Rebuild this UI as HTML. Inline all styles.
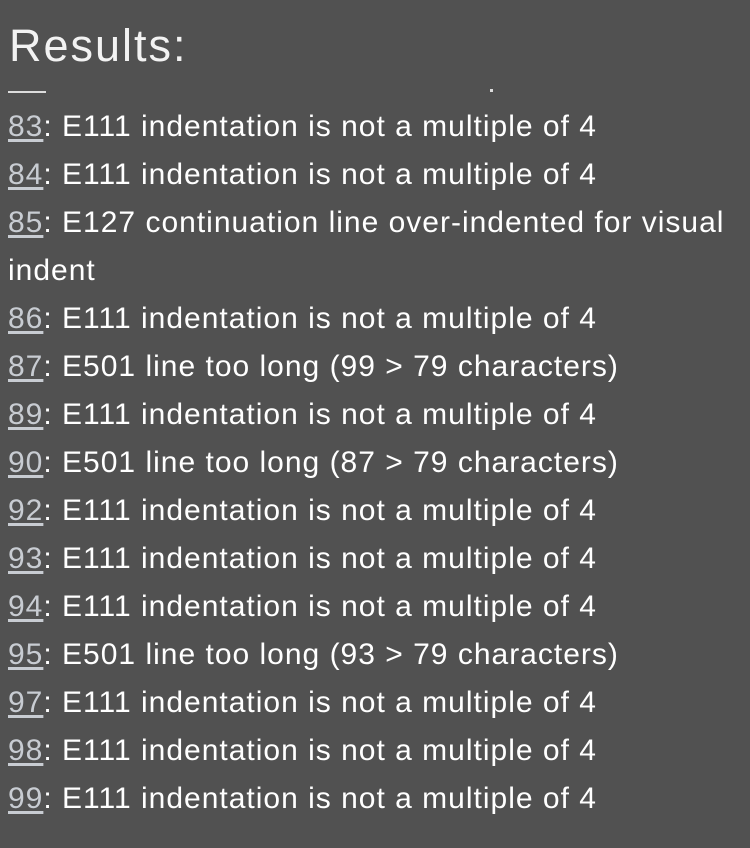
<!DOCTYPE html>
<html><head><meta charset="utf-8"><style>
html,body{margin:0;padding:0;background:#515151;width:750px;height:848px;overflow:hidden}
body{font-family:"Liberation Sans",sans-serif;color:#fff;position:relative}
h1{position:absolute;left:9px;top:16px;margin:0;font-weight:normal;font-size:45px;line-height:60px;color:#f2f2f2;letter-spacing:2px}
.bar{position:absolute;left:8px;top:91px;width:38px;height:2px;background:#ddd}
.dot{position:absolute;left:490px;top:89px;width:3px;height:3px;background:#ddd}
.list{position:absolute;left:8px;top:103px;font-size:30px;line-height:48px;width:740px;letter-spacing:1px}
a{color:#c8ccd2;text-decoration:underline;text-underline-offset:3px}
</style></head><body>
<h1>Results:</h1>
<div class="bar"></div><div class="dot"></div>
<div class="list">
<div><a>83</a>: E111 indentation is not a multiple of 4</div>
<div><a>84</a>: E111 indentation is not a multiple of 4</div>
<div><a>85</a>: E127 continuation line over-indented for visual<br>indent</div>
<div><a>86</a>: E111 indentation is not a multiple of 4</div>
<div><a>87</a>: E501 line too long (99 &gt; 79 characters)</div>
<div><a>89</a>: E111 indentation is not a multiple of 4</div>
<div><a>90</a>: E501 line too long (87 &gt; 79 characters)</div>
<div><a>92</a>: E111 indentation is not a multiple of 4</div>
<div><a>93</a>: E111 indentation is not a multiple of 4</div>
<div><a>94</a>: E111 indentation is not a multiple of 4</div>
<div><a>95</a>: E501 line too long (93 &gt; 79 characters)</div>
<div><a>97</a>: E111 indentation is not a multiple of 4</div>
<div><a>98</a>: E111 indentation is not a multiple of 4</div>
<div><a>99</a>: E111 indentation is not a multiple of 4</div>
</div>
</body></html>
